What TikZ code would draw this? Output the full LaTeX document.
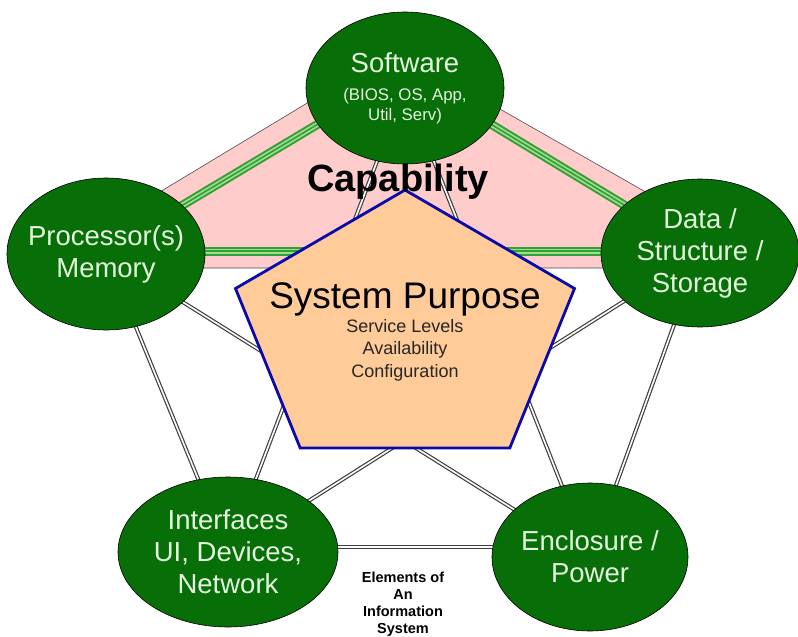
\documentclass[tikz,border=0pt]{standalone}
\usepackage{fontspec}
\setmainfont{Liberation Sans}
\usetikzlibrary{shapes.geometric,backgrounds}

\definecolor{elemgreen}{RGB}{8,110,8}
\definecolor{elemtext}{RGB}{228,246,222}
\definecolor{capapink}{RGB}{255,204,204}
\definecolor{purpfill}{RGB}{255,204,153}
\definecolor{purpblue}{RGB}{10,10,170}
\definecolor{linkgreen}{RGB}{50,160,50}
\definecolor{linkpale}{RGB}{160,220,150}

\begin{document}
\begin{tikzpicture}[x=1pt, y=-1pt,
    element/.style={ellipse, draw=black, line width=0.6pt, fill=elemgreen,
        text=elemtext, align=center, inner xsep=-20pt, inner ysep=0pt,
        font=\fontsize{27.5}{32}\selectfont},
    link/.style={draw=black!75, line width=1.2pt, double=white, double distance=1.6pt},
    caplink/.style={draw=linkgreen, line width=2pt, double=linkpale, double distance=5pt,
        postaction={draw=linkgreen, line width=1.6pt}},
    capzone/.style={fill=capapink, draw=black!70, line width=0.6pt},
    purpose/.style={fill=purpfill, draw=purpblue, line width=2.8pt},
]

    % --- Frame ---
    \useasboundingbox (0,0) rectangle (798,637);

    % --- Elements ---
    \node[element, minimum width=198pt, minimum height=152pt] (sw) at (405,88)
        {Software\\[-4pt]{\fontsize{16.8}{20}\selectfont (BIOS, OS, App,}\\[-12pt]{\fontsize{16.8}{20}\selectfont Util, Serv)}};
    \node[element, minimum width=198pt, minimum height=152pt] (pm) at (106,254) {Processor(s)\\Memory};
    \node[element, minimum width=198pt, minimum height=148pt] (ds) at (700,253) {Data /\\Structure /\\Storage};
    \node[element, minimum width=220pt, minimum height=150pt] (ifc) at (228,552) {Interfaces\\UI, Devices,\\Network};
    \node[element, minimum width=196pt, minimum height=148pt] (ep) at (590,557) {Enclosure /\\Power};

    % --- Capability zone and links ---
    \begin{scope}[on background layer]
        \draw[capzone] (395.6,49.7) -- (120,216) -- (120,268) -- (680,268) -- (680,211.5) -- cycle;
        \draw[caplink] ([yshift=16pt]sw.center) -- ([yshift=3pt]pm.center);
        \draw[caplink] ([yshift=16pt]sw.center) -- ([yshift=2pt]ds.center);
        \draw[caplink] ([yshift=3pt]pm.center) -- ([yshift=2pt]ds.center);
        % outer ring
        \draw[link] (pm.center) -- (ifc.center);
        \draw[link] ([yshift=5pt]ifc.center) -- ([yshift=10pt]ep.center);
        \draw[link] (ep.center) -- (ds.center);
        % star
        \draw[link] (sw.center) -- (ifc.center);
        \draw[link] (sw.center) -- (ep.center);
        \draw[link] (pm.center) -- (ep.center);
        \draw[link] (ds.center) -- (ifc.center);
    \end{scope}

    % --- System purpose ---
    \coordinate (P1) at (405,190);
    \coordinate (P2) at (574.5,288.5);
    \coordinate (P3) at (509.8,448);
    \coordinate (P4) at (300.2,448);
    \coordinate (P5) at (235.5,288.5);
    \draw[purpose] (P1) -- (P2) -- (P3) -- (P4) -- (P5) -- cycle;

    % --- Labels ---
    \node[font=\fontsize{37}{44}\selectfont] (spt) at (405,299) {System Purpose};
    \node[font=\fontsize{18}{22.5}\selectfont, align=center, text=black!85] (sps) at (405,350)
        {Service Levels\\Availability\\Configuration};
    \node[font=\bfseries\fontsize{38}{44}\selectfont] (cap) at (398,182) {Capability};
    \node[font=\bfseries\fontsize{14.5}{17}\selectfont, align=center] (eis) at (403,604)
        {Elements of\\An\\Information\\System};

\end{tikzpicture}
\end{document}
